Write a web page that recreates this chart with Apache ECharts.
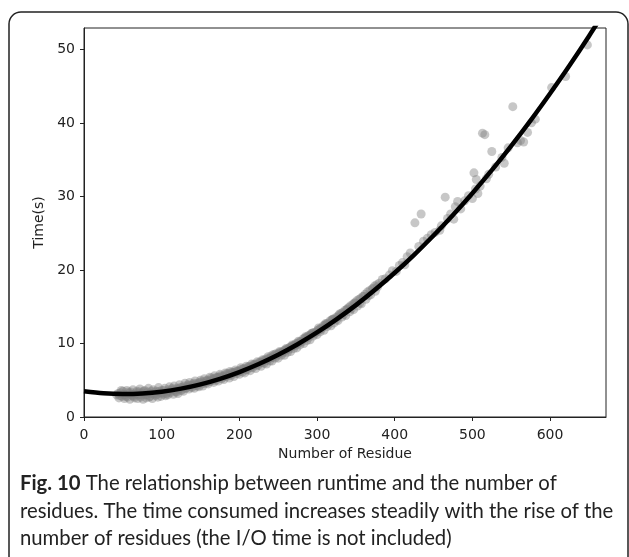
<!DOCTYPE html>
<html>
<head>
<meta charset="utf-8">
<script src="https://cdn.jsdelivr.net/npm/echarts@6/dist/echarts.min.js"></script>
<style>html,body{margin:0;padding:0;background:#fff;}#c{width:629px;height:557px;}</style>
</head>
<body>
<div id="c"></div>
<script>
// Tick labels
var xTicks = [0, 100, 200, 300, 400, 500, 600];
var yTicks = [0, 10, 20, 30, 40, 50];

var densePoints = [
  [42,3.0],[45,2.6],[47,3.3],[49,2.8],[50,3.5],[52,2.5],[53,3.0],[55,3.6],[56,2.7],[58,3.2],
  [59,2.4],[60,3.4],[62,2.9],[63,3.7],[65,2.6],[66,3.1],[68,3.5],[69,2.5],[70,3.0],[72,3.8],
  [73,2.7],[75,3.3],[76,2.4],[78,3.6],[79,3.0],[80,2.6],[82,3.4],[83,3.9],[85,2.8],[86,3.2],
  [88,2.5],[89,3.7],[90,3.1],[92,2.9],[93,3.5],[95,2.7],[96,4.0],[98,3.3],[99,2.8],[100,3.6],
  [102,3.1],[104,3.9],[105,2.9],[107,3.4],[108,3.0],[110,4.1],[111,3.3],[113,3.7],[115,3.1],[116,4.2],
  [118,3.5],[120,3.9],[121,3.2],[123,4.4],[125,3.6],[126,4.0],[128,3.5],[130,4.6],[131,3.9],[133,4.2],
  [135,3.8],[136,4.7],[138,4.1],[140,4.4],[142,3.9],[143,4.9],[145,4.3],[147,4.6],[148,4.1],[150,5.0],
  [152,4.5],[153,4.2],[155,5.2],[157,4.6],[158,4.9],[160,4.5],[162,5.4],[163,4.9],[165,5.1],[167,4.7],
  [168,5.6],[170,5.0],[172,5.4],[173,4.9],[175,5.8],[177,5.2],[178,5.5],[180,5.1],[182,6.0],[183,5.5],
  [185,5.8],[187,5.3],[188,6.2],[190,5.7],[192,6.0],[193,5.5],[195,6.4],[197,5.9],[198,6.2],[200,5.8],
  [202,6.7],[204,6.1],[205,6.5],[207,6.0],[209,6.9],[210,6.4],[212,6.7],[214,6.3],[216,7.2],[217,6.7],
  [219,7.0],[221,6.6],[223,7.5],[224,7.0],[226,7.3],[228,6.9],[230,7.8],[232,7.3],[233,7.6],[235,7.2],
  [237,8.2],[239,7.6],[240,8.0],[242,7.6],[244,8.5],[246,8.0],[248,8.3],[250,8.0],[252,8.9],[254,8.4],
  [256,8.7],[258,8.4],[260,9.3],[262,8.8],[264,9.2],[266,8.9],[268,9.8],[270,9.3],[272,9.7],[274,9.4],
  [276,10.3],[278,9.8],[280,10.2],[283,10.0],[285,10.9],[287,10.4],[289,10.8],[291,10.5],[293,11.4],[295,11.0],
  [297,11.3],[300,11.2],[302,12.1],[304,11.6],[306,12.0],[309,11.8],[311,12.7],[313,12.3],[315,12.6],[318,12.4],
  [320,13.3],[322,12.8],[325,13.2],[327,13.1],[329,14.0],[332,13.6],[334,13.9],[337,13.8],[339,14.7],[342,14.3],
  [344,14.7],[347,14.6],[349,15.5],[352,15.1],[355,15.5],[357,15.4],[360,16.4],[363,16.0],[366,16.5],[369,16.6],
  [372,17.5],[375,17.1],[378,17.7]
];
var densePoints2 = [
  [44,3.2],[46,2.9],[48,3.6],[51,3.1],[54,2.8],[57,3.4],[61,3.1],[64,2.8],[67,3.3],[71,3.4],
  [74,3.0],[77,3.5],[81,3.1],[84,2.7],[87,3.5],[91,3.3],[94,3.1],[97,3.5],[101,3.3],[103,3.6],
  [106,3.2],[109,3.7],[112,3.5],[114,3.9],[117,3.7],[119,3.4],[122,3.8],[124,4.0],[127,3.8],[129,4.2],
  [132,4.0],[134,4.4],[137,4.3],[139,4.0],[141,4.6],[144,4.5],[146,4.2],[149,4.7],[151,4.8],[154,4.6],
  [156,4.9],[159,5.0],[161,4.8],[164,5.3],[166,5.0],[169,5.3],[171,5.3],[174,5.4],[176,5.6],[179,5.4],
  [181,5.7],[184,5.9],[186,5.6],[189,6.0],[191,6.1],[194,6.0],[196,6.2],[199,6.3],[201,6.2],[203,6.5],
  [206,6.6],[208,6.4],[211,6.8],[213,6.9],[215,6.8],[218,7.1],[220,7.2],[222,7.1],[225,7.4],[227,7.5],
  [229,7.4],[231,7.7],[234,7.9],[236,7.8],[238,8.0],[241,8.3],[243,8.1],[245,8.4],[247,8.6],[249,8.5],
  [251,8.7],[253,8.8],[255,8.8],[257,9.0],[259,9.1],[261,9.2],[263,9.3],[265,9.5],[267,9.6],[269,9.7],
  [271,9.8],[273,10.0],[275,10.0],[277,10.2],[279,10.3],[282,10.6],[284,10.7],[286,10.8],[288,11.0],[290,11.1],
  [292,11.2],[294,11.4],[296,11.5],[299,11.6],[301,11.8],[303,11.9],[305,12.1],[308,12.4],[310,12.5],[312,12.6],
  [314,12.8],[317,13.1],[319,13.2],[321,13.3],[324,13.5],[326,13.6],[328,13.8],[331,14.1],[333,14.2],[336,14.5],
  [338,14.6],[341,14.9],[343,15.1],[346,15.3],[348,15.5],[351,15.8],[354,16.0],[356,16.1],[359,16.4],[362,16.7],
  [365,17.0],[368,17.2],[371,17.4],[374,17.8],[377,18.0]
];
var sparsePoints = [
  [380,18.2],[384,18.7],[388,18.8],[393,19.3],[397,19.9],[402,19.8],[406,20.6],[410,21.0],[413,20.7],[416,21.8],
  [420,22.3],[426,26.4],[431,23.2],[434,27.6],[437,23.9],[442,24.3],[447,24.8],[452,25.1],[458,25.4],[460,26.0],
  [465,29.9],[468,27.0],[472,27.6],[476,26.9],[478,28.6],[481,29.3],[485,28.3],[490,29.4],[495,30.1],[500,29.7],
  [502,33.2],[504,31.0],[505,32.3],[507,30.4],[510,31.4],[513,38.6],[516,38.4],[518,32.4],[521,33.0],[525,36.1],
  [530,34.0],[538,35.3],[541,34.5],[546,36.6],[552,42.2],[558,37.3],[562,37.6],[566,37.4],[571,38.7],[576,40.0],
  [581,40.5],[602,44.8],[620,46.3],[648,50.6]
];

// Fitted curve
var fitX = [0,25,50,75,100,125,150,175,200,225,250,275,300,325,350,375,400,425,450,475,500,525,550,575,600,625,650,675];
var fitY = [3.5,3.23,3.13,3.20,3.44,3.86,4.44,5.19,6.11,7.20,8.46,9.90,11.50,13.27,15.21,17.33,19.61,22.06,24.68,27.48,30.44,33.57,36.88,40.35,44.0,47.8,51.79,55.95];

var captionBold = 'Fig. 10';
var captionLines = [
  ' The relationship between runtime and the number of',
  'residues. The time consumed increases steadily with the rise of the',
  'number of residues (the I/O time is not included)'
];

var fitData = fitX.map(function (x, i) { return [x, fitY[i]]; });
var allPoints = densePoints.concat(densePoints2, sparsePoints);

var chart = echarts.init(document.getElementById('c'), null, {renderer: 'canvas'});
var axisFont = 'DejaVu Sans';
var capFont = 'Lato';
var capSize = 20.3;
chart.setOption({
  animation: false,
  backgroundColor: '#fff',
  grid: {left: 84, right: 23, top: 28, bottom: 140, show: true, borderColor: '#222', borderWidth: 1, backgroundColor: 'transparent'},
  xAxis: {
    type: 'value', min: 0, max: 672,
    name: 'Number of Residue', nameLocation: 'middle', nameGap: 27,
    nameTextStyle: {fontFamily: axisFont, fontSize: 14, color: '#222'},
    axisLine: {show: true, lineStyle: {color: '#222', width: 1}},
    axisTick: {show: true, length: 4, inside: false, customValues: xTicks, lineStyle: {color: '#222'}},
    axisLabel: {customValues: xTicks, fontFamily: axisFont, fontSize: 14, color: '#222', margin: 11},
    splitLine: {show: false}
  },
  yAxis: {
    type: 'value', min: 0, max: 52.9,
    name: 'Time(s)', nameLocation: 'middle', nameGap: 31, nameRotate: 90,
    nameTextStyle: {fontFamily: axisFont, fontSize: 14, color: '#222'},
    axisLine: {show: true, lineStyle: {color: '#222', width: 1}},
    axisTick: {show: true, length: 4, inside: false, customValues: yTicks, lineStyle: {color: '#222'}},
    axisLabel: {customValues: yTicks, fontFamily: axisFont, fontSize: 14, color: '#222', margin: 9},
    splitLine: {show: false}
  },
  series: [
    {
      type: 'scatter', data: allPoints, symbol: 'circle', symbolSize: 9,
      itemStyle: {color: 'rgba(128,128,128,0.55)'}, z: 2
    },
    {
      type: 'line', data: fitData, showSymbol: false, smooth: 0.3, clip: true,
      lineStyle: {color: '#000', width: 4.5}, z: 3
    }
  ],
  graphic: [
    {type: 'rect', shape: {x: 9, y: 12, width: 619, height: 570, r: 12},
     style: {fill: 'none', stroke: '#222', lineWidth: 1.5}, silent: true},
    {type: 'text', left: 20, top: 473, style: {
      text: '{b|' + captionBold + '}{n|' + captionLines[0] + '}',
      rich: {b: {fontFamily: capFont, fontWeight: 'bold', fontSize: capSize, fill: '#222'},
             n: {fontFamily: capFont, fontSize: capSize, fill: '#222'}}
    }},
    {type: 'text', left: 20, top: 501, style: {text: captionLines[1], fontFamily: capFont, fontSize: capSize, fill: '#222'}},
    {type: 'text', left: 20, top: 528, style: {text: captionLines[2], fontFamily: capFont, fontSize: capSize, fill: '#222'}}
  ]
});
</script>
</body>
</html>
